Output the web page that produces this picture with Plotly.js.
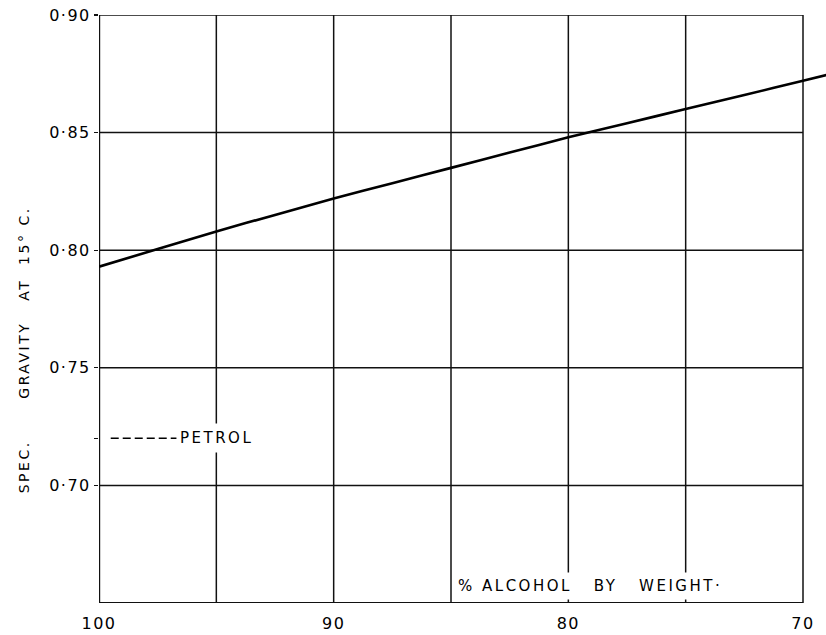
<!DOCTYPE html>
<html>
<head>
<meta charset="utf-8">
<script src="https://cdn.plot.ly/plotly-3.0.1.min.js"></script>
<style>
html,body{margin:0;padding:0;background:#fff;}
#chart{width:826px;height:635px;}
text.annotation-text{letter-spacing:2.5px;}
.xtick text,.ytick text{letter-spacing:1.5px;}
</style>
</head>
<body>
<div id="chart"></div>
<script>
// Data
const alcoholPct = [100, 97.5, 95, 92.5, 90, 87.5, 85, 82.5, 80, 77.5, 75, 72.5, 70, 69];
const specGravity = [0.793, 0.8005, 0.808, 0.815, 0.822, 0.8285, 0.835, 0.8415, 0.848, 0.854, 0.860, 0.866, 0.872, 0.8745];
const petrolX = [99.5, 96.7];
const petrolSG = [0.72, 0.72];
const xTickVals = [100, 95, 90, 85, 80, 75, 70];
const xTickText = ["100", "", "90", "", "80", "", "70"];
const yGridVals = [0.65, 0.70, 0.75, 0.80, 0.85, 0.90];
const yTickVals = [0.70, 0.72, 0.75, 0.80, 0.85, 0.90];
const yTickText = ["0·70", "", "0·75", "0·80", "0·85", "0·90"];

const xLeft = 100, xRight = 70, yBottom = 0.65, yTop = 0.90;
const font = "DejaVu Sans, Liberation Sans, sans-serif";

const shapes = [];
yGridVals.forEach(v => shapes.push({
  type: "line", xref: "x", yref: "y", x0: xLeft, x1: xRight, y0: v, y1: v,
  line: {color: "#111", width: v === yBottom ? 2.2 : 1.5}, layer: "below"
}));
xTickVals.forEach(v => shapes.push({
  type: "line", xref: "x", yref: "y", x0: v, x1: v, y0: yBottom, y1: yTop,
  line: {color: "#111", width: v === xLeft ? 2.4 : 1.5}, layer: "below"
}));

const traces = [
  {x: alcoholPct, y: specGravity, type: "scatter", mode: "lines",
   line: {color: "#000", width: 2.6, shape: "spline", smoothing: 0.6}, hoverinfo: "skip"},
  {x: petrolX, y: petrolSG, type: "scatter", mode: "lines",
   line: {color: "#000", width: 1.5, dash: "8px,4px"}, hoverinfo: "skip"}
];

const sp = n => "\u00a0".repeat(n);

const layout = {
  width: 826, height: 635,
  margin: {l: 99, r: 0, t: 15, b: 32},
  paper_bgcolor: "#fff", plot_bgcolor: "#fff",
  showlegend: false,
  font: {family: font, color: "#000", size: 16},
  xaxis: {
    range: [100, 69.02], tickmode: "array", tickvals: xTickVals, ticktext: xTickText,
    showgrid: false, zeroline: false, showline: false,
    ticks: "", ticklabelstandoff: 9,
    tickfont: {family: font, size: 16, color: "#000"}, fixedrange: true
  },
  yaxis: {
    range: [yBottom, yTop], tickmode: "array", tickvals: yTickVals, ticktext: yTickText,
    showgrid: false, zeroline: false, showline: false,
    ticks: "outside", ticklen: 4, tickcolor: "#111", tickwidth: 1.2,
    tickfont: {family: font, size: 16, color: "#000"}, fixedrange: true
  },
  shapes: shapes,
  annotations: [
    {xref: "x", yref: "y", x: 96.6, y: petrolSG[0], text: "PETROL", showarrow: false,
     xanchor: "left", yanchor: "middle", align: "left", width: 80, height: 28,
     bgcolor: "#fff", borderpad: 0,
     font: {family: font, size: 15, color: "#000"}},
    {xref: "paper", yref: "paper", x: 0.493, y: 0.029, text: "%" + sp(1) + "ALCOHOL" + sp(3) + "BY" + sp(3) + "WEIGHT·",
     showarrow: false, xanchor: "left", yanchor: "middle", align: "left", width: 272, height: 26,
     bgcolor: "#fff", borderpad: 0,
     font: {family: font, size: 15, color: "#000"}},
    {xref: "paper", yref: "paper", x: -0.103, y: 0.430,
     text: "SPEC." + sp(6) + "GRAVITY" + sp(3) + "AT" + sp(2) + "15°" + sp(1) + "C.",
     showarrow: false, textangle: -90, xanchor: "center", yanchor: "middle",
     font: {family: font, size: 14, color: "#000"}}
  ]
};

Plotly.newPlot("chart", traces, layout, {staticPlot: true, displayModeBar: false});
</script>
</body>
</html>
